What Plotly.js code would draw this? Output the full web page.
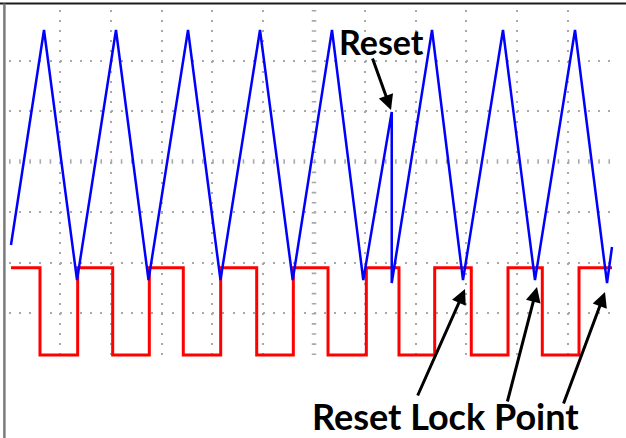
<!DOCTYPE html>
<html>
<head>
<meta charset="utf-8">
<script src="https://cdn.plot.ly/plotly-3.0.1.min.js"></script>
<style>
  html, body { margin: 0; padding: 0; background: #ffffff; }
  #chart { width: 626px; height: 438px; }
</style>
</head>
<body>
<div id="chart"></div>
<script>
// Time axis in screen divisions (left grid column = 0), voltage in divisions (centre row = 0)

// Blue ramp (triangle) vertices, with the reset event
const rampTime  = [0.035, 0.685, 1.335, 2.102, 2.742, 3.520, 4.159, 4.937, 5.581, 6.354, 6.970, 7.530, 7.530, 8.323, 8.933, 9.720, 10.350, 11.138, 11.768, 11.866];
const rampLevel = [-1.653, 2.604, -2.347, 2.604, -2.347, 2.604, -2.347, 2.604, -2.347, 2.604, -2.347, 0.980, -2.406, 2.604, -2.347, 2.604, -2.347, 2.604, -2.406, -1.693];

// Red square wave: edge times and the level held after each edge
const clockTime  = [0.035, 0.606, 1.348, 2.037, 2.758, 3.427, 4.163, 4.872, 5.593, 6.276, 7.030, 7.673, 8.376, 9.096, 9.819, 10.494, 11.217, 11.866];
const clockLevel = [-2.103, -3.832, -2.103, -3.832, -2.103, -3.832, -2.103, -3.832, -2.103, -3.832, -2.103, -3.832, -2.103, -3.832, -2.103, -3.832, -2.103, -2.103];

// Grid divisions shown as dotted lines (centre lines drawn with tick marks)
const gridCols = [0, 1, 2, 3, 4, 5, 7, 8, 9, 10, 11];
const gridRows = [-3, -2, -1, 1, 2];
const centreCol = 6;
const centreRow = 0;

// Labels
const resetLabel = 'Reset';
const lockLabel = 'Reset Lock Point';

const traces = [
  {
    x: clockTime, y: clockLevel, type: 'scatter', mode: 'lines',
    line: { color: '#ff0000', width: 3, shape: 'hv' },
    hoverinfo: 'skip', showlegend: false
  },
  {
    x: rampTime, y: rampLevel, type: 'scatter', mode: 'lines',
    line: { color: '#0000ff', width: 2.5 },
    hoverinfo: 'skip', showlegend: false
  }
];

const gridColor = '#a8a8a8';
const layout = {
  width: 626, height: 438,
  margin: { l: 9, r: 12, t: 10, b: 76, pad: 0 },
  paper_bgcolor: '#ffffff', plot_bgcolor: '#ffffff',
  showlegend: false,
  xaxis: {
    range: [-0.004, 11.9055], tickmode: 'array', tickvals: gridCols,
    showticklabels: false, ticks: '', zeroline: false, showline: false,
    showgrid: true, gridcolor: gridColor, gridwidth: 2, griddash: '2px,8.1px',
    fixedrange: true
  },
  yaxis: {
    range: [-3.9703, 3.0], tickmode: 'array', tickvals: gridRows,
    showticklabels: false, ticks: '', zeroline: false, showline: false,
    showgrid: true, gridcolor: gridColor, gridwidth: 2, griddash: '2px,8.16px',
    fixedrange: true
  },
  shapes: [
    { type: 'line', xref: 'paper', yref: 'y', x0: 0, x1: 1, y0: centreRow, y1: centreRow,
      line: { color: gridColor, width: 4.5, dash: '1.6px,8.56px' }, layer: 'below' },
    { type: 'line', xref: 'x', yref: 'paper', x0: centreCol, x1: centreCol, y0: 1, y1: 0,
      line: { color: gridColor, width: 4.5, dash: '1.6px,8.5px' }, layer: 'below' },
    // screenshot frame
    { type: 'line', xref: 'paper', yref: 'paper', x0: -0.0149, x1: 1.0198, y0: 1.0185, y1: 1.0185,
      line: { color: '#1a1a1a', width: 2 }, layer: 'above' },
    { type: 'line', xref: 'paper', yref: 'paper', x0: -0.0076, x1: -0.0076, y0: 1.0185, y1: -0.2159,
      line: { color: '#7a7a7a', width: 2.5 }, layer: 'above' }
  ],
  annotations: [
    { xref: 'paper', yref: 'paper', x: (381 - 9) / 605, y: 1 - (41 - 10) / 352,
      xanchor: 'center', yanchor: 'middle', showarrow: false,
      text: '<b>' + resetLabel + '</b>',
      font: { family: 'Lato, "DejaVu Sans", sans-serif', size: 34, color: '#000000' } },
    { xref: 'paper', yref: 'paper', x: (446 - 9) / 605, y: 1 - (416 - 10) / 352,
      xanchor: 'center', yanchor: 'middle', showarrow: false,
      text: '<b>' + lockLabel + '</b>',
      font: { family: 'Lato, "DejaVu Sans", sans-serif', size: 36, color: '#000000' } },
    // arrows (tip in data coordinates, tail offset in px)
    { xref: 'x', yref: 'y', x: (391 - 9.2) / 50.8, y: (161.5 - 110) / 50.5, ax: -19, ay: -53,
      text: '', showarrow: true, arrowhead: 2, arrowsize: 1, arrowwidth: 3, arrowcolor: '#000000' },
    { xref: 'x', yref: 'y', x: (465 - 9.2) / 50.8, y: (161.5 - 289) / 50.5, ax: -48, ay: 108,
      text: '', showarrow: true, arrowhead: 2, arrowsize: 1, arrowwidth: 3, arrowcolor: '#000000' },
    { xref: 'x', yref: 'y', x: (537 - 9.2) / 50.8, y: (161.5 - 287) / 50.5, ax: -30, ay: 116,
      text: '', showarrow: true, arrowhead: 2, arrowsize: 1, arrowwidth: 3, arrowcolor: '#000000' },
    { xref: 'x', yref: 'y', x: (605 - 9.2) / 50.8, y: (161.5 - 292) / 50.5, ax: -42, ay: 113,
      text: '', showarrow: true, arrowhead: 2, arrowsize: 1, arrowwidth: 3, arrowcolor: '#000000' }
  ]
};

Plotly.newPlot('chart', traces, layout, { staticPlot: true, displayModeBar: false });
</script>
</body>
</html>
